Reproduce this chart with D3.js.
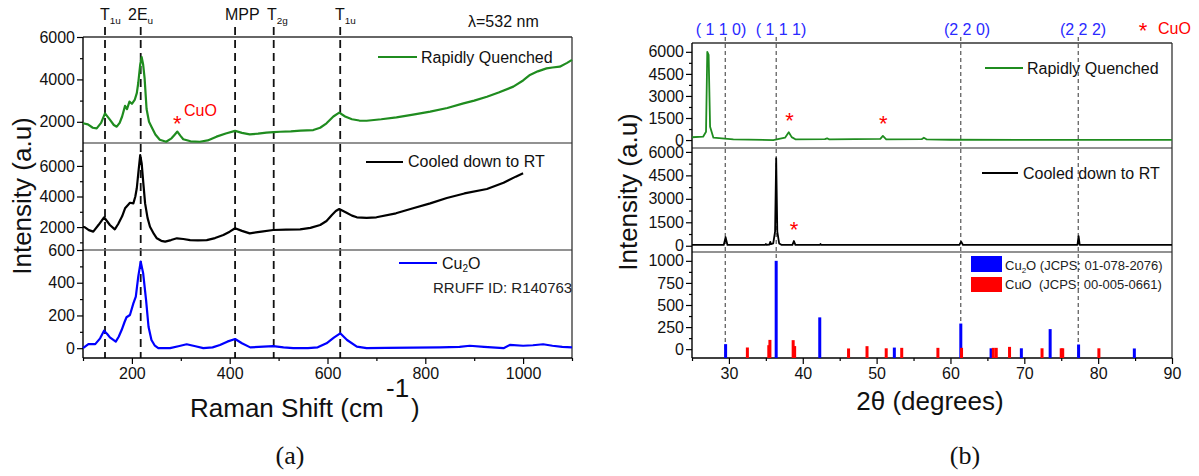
<!DOCTYPE html>
<html><head><meta charset="utf-8">
<script src="https://cdn.jsdelivr.net/npm/d3@7"></script>
<style>
body{margin:0;background:#fff}
svg{font-family:Arial,"Liberation Sans",sans-serif}
</style>
</head><body>
<svg id="c" width="1199" height="476"></svg>
<script>
// ---------------- DATA ----------------
// Raman (a)
const ramanShiftRQ = [100,110,120,128,137,145,155,163,169,175,180,186,190,195,200,206,210,213,217,220,223,226,230,235,240,248,257,270,281,287,293,299,305,320,339,355,373,392,411,425,441,458,475,490,503,525,545,571,585,598,612,624,636,650,665,680,710,741,775,810,845,878,900,926,950,980,1000,1014,1030,1048,1060,1075,1090,1100];
const intensityRQ   = [1930,1880,1720,1690,1950,2400,2100,1850,1770,1950,2250,2750,2600,2950,2850,3050,3350,3830,4700,5050,4700,4050,2600,2000,1770,1400,1150,1060,1220,1380,1540,1350,1180,1080,1060,1120,1300,1450,1570,1480,1410,1440,1490,1510,1530,1550,1580,1610,1720,1930,2250,2430,2250,2120,2060,2050,2120,2210,2340,2480,2650,2870,3000,3180,3380,3660,3950,4210,4380,4520,4560,4600,4780,4920];

const ramanShiftRT = [100,104,112,121,132,143,150,155,165,172,180,186,192,196,203,207,210,214,217,220,223,227,232,237,245,251,260,268,280,292,305,319,335,353,370,387,400,411,425,441,465,489,515,544,565,585,598,609,617,624,632,639,650,660,680,700,740,775,810,844,880,926,960,985,1000];
const intensityRT   = [2020,1985,1800,1700,2150,2640,2350,2135,1850,2200,2700,3230,3450,3590,3550,4000,4540,5800,6710,6170,5000,3550,2600,2020,1550,1265,1100,1045,1150,1265,1220,1150,1130,1150,1280,1480,1700,1920,1750,1590,1700,1810,1830,1850,1950,2135,2400,2790,3050,3180,3050,2940,2750,2640,2600,2640,2900,3230,3550,3900,4200,4490,4900,5300,5520];

const ramanShiftCu2O = [100,111,125,135,143,150,155,167,173,179,185,189,196,203,208,213,218,223,229,234,240,247,254,278,295,312,330,346,365,380,395,411,425,442,469,489,510,530,560,580,598,613,626,640,660,680,720,775,830,870,891,920,960,973,1000,1020,1041,1060,1080,1100];
const intensityCu2O   = [0,25,25,60,107,85,66,40,70,111,160,189,203,274,315,437,529,458,294,131,50,15,0,0,12,24,12,0,5,19,40,56,30,5,9,13,5,0,0,5,30,65,91,50,9,0,2,3,5,8,15,8,0,20,15,18,24,15,8,5];

const ramanModes      = [145,218,411,490,626];
const ramanModeLabels = [["T","1u"],["2E","u"],["MPP",""],["T","2g"],["T","1u"]];

const ramanTicksRQ = [2000,4000,6000], ramanMinorRQ = [3000,5000];
const ramanTicksRT = [2000,4000,6000], ramanMinorRT = [1000,3000,5000,7000];
const ramanTicksC  = [0,200,400,600],  ramanMinorC  = [100,300,500];
const ramanTicksX  = [200,400,600,800,1000], ramanMinorX = [100,300,500,700,900,1100];

// XRD (b)
const twoThetaRQ   = [25,26.5,26.9,27.07,27.25,27.45,27.9,30.6,36,37.6,38.1,38.5,39,43,43.3,43.6,50.5,50.85,51.3,56.1,56.4,56.8,60,70,80,90];
const xrdIntRQ     = [190,230,570,6000,5800,900,160,50,0,160,530,200,50,60,120,40,80,280,50,60,160,40,20,10,10,10];

const twoThetaRT   = [25,29.3,29.55,29.8,34.9,35.0,35.1,35.5,35.6,35.7,36.0,36.25,36.4,36.55,36.8,37.1,38.6,38.8,39.0,42.3,42.4,42.5,61.2,61.45,61.7,77.2,77.35,77.5,90];
const xrdIntRT     = [50,50,550,50,60,110,60,80,250,100,150,900,5600,900,150,60,60,300,60,60,110,60,50,260,50,50,620,50,50];

const cu2oPos = [29.55,36.4,42.3,52.4,61.4,65.5,69.6,73.5,77.35,84.9];
const cu2oInt = [57,1000,360,18,290,10,10,227,53,8];
const cuoPos  = [32.5,35.4,35.55,38.7,38.9,46.2,48.7,51.3,53.4,58.3,61.5,65.8,66.2,68.0,72.4,75.0,75.2,80.1];
const cuoInt  = [19,45,105,102,35,8,34,10,15,15,15,15,15,26,10,10,10,10];

const millerPos    = [29.5,36.4,61.4,77.3];
const millerLabels = ["( 1 1 0)","( 1 1 1)","(2 2 0)","(2 2 2)"];

const xrdTicksY  = [0,1500,3000,4500,6000], xrdMinorY = [750,2250,3750,5250];
const xrdTicksS  = [0,250,500,750,1000],    xrdMinorS = [125,375,625,875];
const xrdTicksX  = [30,40,50,60,70,80,90],  xrdMinorX = [25,35,45,55,65,75,85];

// ---------------- DRAW ----------------
const svg = d3.select("#c");
const GREEN = "#1f8c1f", BLUE = "#0000ff", RED = "#ff0000";

function styleAxis(g, fs){
  g.select("path.domain").remove();
  g.selectAll("line").attr("stroke","#000").attr("stroke-width",1.2);
  g.selectAll("text").attr("font-size",fs).attr("fill","#111").attr("font-family","Arial, 'Liberation Sans', sans-serif");
}
function leftAxis(y, x0, majors, minors){
  const g = svg.append("g").attr("transform",`translate(${x0},0)`)
    .call(d3.axisLeft(y).tickValues(majors).tickSize(6).tickPadding(2).tickSizeOuter(0).tickFormat(d3.format("d")));
  styleAxis(g,16);
  const m = svg.append("g").attr("transform",`translate(${x0},0)`)
    .call(d3.axisLeft(y).tickValues(minors).tickSize(3).tickSizeOuter(0).tickFormat(""));
  styleAxis(m,16);
}
function bottomAxis(x, y0, majors, minors){
  const g = svg.append("g").attr("transform",`translate(0,${y0})`)
    .call(d3.axisBottom(x).tickValues(majors).tickSize(6).tickPadding(4).tickSizeOuter(0).tickFormat(d3.format("d")));
  styleAxis(g,16);
  const m = svg.append("g").attr("transform",`translate(0,${y0})`)
    .call(d3.axisBottom(x).tickValues(minors).tickSize(3).tickSizeOuter(0).tickFormat(""));
  styleAxis(m,16);
}
function curve(x, y, xs, ys, color, w){
  svg.append("path").datum(d3.zip(xs,ys))
    .attr("d", d3.line().x(d=>x(d[0])).y(d=>y(d[1])))
    .attr("fill","none").attr("stroke",color).attr("stroke-width",w).attr("stroke-linejoin","round");
}
function subText(x, y, main, sub, fs, color, anchor){
  const t = svg.append("text").attr("x",x).attr("y",y).attr("font-size",fs).attr("fill",color||"#111")
    .attr("text-anchor",anchor||"start");
  t.append("tspan").text(main);
  if(sub) t.append("tspan").attr("font-size",fs*0.62).attr("dy",4).text(sub);
  return t;
}
function frame(x0,x1,yTop,yBot,divs){
  divs.forEach(d=>svg.append("line").attr("x1",x0).attr("x2",x1).attr("y1",d).attr("y2",d)
    .attr("stroke","#6e6e6e").attr("stroke-width",1.6));
  svg.append("line").attr("x1",x0).attr("x2",x1).attr("y1",yTop).attr("y2",yTop).attr("stroke","#333").attr("stroke-width",1.3);
  svg.append("line").attr("x1",x1).attr("x2",x1).attr("y1",yTop).attr("y2",yBot).attr("stroke","#333").attr("stroke-width",1.3);
  svg.append("line").attr("x1",x0).attr("x2",x1).attr("y1",yBot).attr("y2",yBot).attr("stroke","#000").attr("stroke-width",1.4);
  svg.append("line").attr("x1",x0).attr("x2",x0).attr("y1",yTop).attr("y2",yBot).attr("stroke","#000").attr("stroke-width",1.4);
}

// ===== Panel (a) Raman =====
const xR   = d3.scaleLinear().domain([100,1100]).range([83,572]);
const yRQ  = d3.scaleLinear().domain([1000,6000]).range([143,37]);
const yRT  = d3.scaleLinear().domain([500,7500]).range([250,143]);
const yC   = d3.scaleLinear().domain([-60,600]).range([358,250]);

// dashed mode lines
ramanModes.forEach(v=>{
  svg.append("line").attr("x1",xR(v)).attr("x2",xR(v)).attr("y1",27).attr("y2",358)
    .attr("stroke","#111").attr("stroke-width",1.8).attr("stroke-dasharray","8,5");
});
frame(83,572,37,358,[143,250]);

curve(xR,yRQ,ramanShiftRQ,intensityRQ,GREEN,2.2);
curve(xR,yRT,ramanShiftRT,intensityRT,"#000",2.2);
curve(xR,yC,ramanShiftCu2O,intensityCu2O,BLUE,2.2);

leftAxis(yRQ,83,ramanTicksRQ,ramanMinorRQ);
leftAxis(yRT,83,ramanTicksRT,ramanMinorRT);
leftAxis(yC,83,ramanTicksC,ramanMinorC);
bottomAxis(xR,358,ramanTicksX,ramanMinorX);

// mode labels
const modeLabelX = [100,128,225,267,335];
ramanModeLabels.forEach((l,i)=>subText(modeLabelX[i],20,l[0],l[1],16,"#111"));
svg.append("text").attr("x",468).attr("y",27).attr("font-size",16).attr("fill","#111").text("λ=532 nm");

// CuO marker
svg.append("text").attr("x",xR(293)).attr("y",131).attr("text-anchor","middle").attr("font-size",22).attr("fill",RED).text("*");
svg.append("text").attr("x",184).attr("y",116).attr("font-size",16).attr("fill",RED).text("CuO");

// legends
svg.append("line").attr("x1",378).attr("x2",417).attr("y1",57).attr("y2",57).attr("stroke",GREEN).attr("stroke-width",2.2);
svg.append("text").attr("x",421).attr("y",63).attr("font-size",16).attr("fill","#111").text("Rapidly Quenched");
svg.append("line").attr("x1",366).attr("x2",403).attr("y1",162).attr("y2",162).attr("stroke","#000").attr("stroke-width",2.2);
svg.append("text").attr("x",408).attr("y",167).attr("font-size",16).attr("fill","#111").text("Cooled down to RT");
svg.append("line").attr("x1",399).attr("x2",437).attr("y1",263).attr("y2",263).attr("stroke",BLUE).attr("stroke-width",2.2);
{
  const t = svg.append("text").attr("x",442).attr("y",269).attr("font-size",16).attr("fill","#111");
  t.append("tspan").text("Cu"); t.append("tspan").attr("font-size",10).attr("dy",3).text("2"); t.append("tspan").attr("dy",-3).text("O");
}
svg.append("text").attr("x",433).attr("y",293).attr("font-size",15).attr("fill","#222").text("RRUFF ID: R140763");

// axis titles
svg.append("text").attr("transform","translate(31,196) rotate(-90)").attr("text-anchor","middle")
  .attr("font-size",26).attr("fill","#111").text("Intensity (a.u)");
svg.append("text").attr("x",190).attr("y",417).attr("font-size",26).attr("fill","#111").text("Raman Shift (cm");
svg.append("text").attr("x",386).attr("y",397).attr("font-size",26).attr("fill","#111").text("-1");
svg.append("text").attr("x",411).attr("y",417).attr("font-size",26).attr("fill","#111").text(")");

// ===== Panel (b) XRD =====
const xX   = d3.scaleLinear().domain([25,90]).range([692,1172]);
const yXQ  = d3.scaleLinear().domain([-540,6600]).range([148,43]);
const yXT  = d3.scaleLinear().domain([-400,6250]).range([252,148]);
const yXS  = d3.scaleLinear().domain([-100,1100]).range([358,252]);

millerPos.forEach(v=>{
  svg.append("line").attr("x1",xX(v)).attr("x2",xX(v)).attr("y1",37).attr("y2",358)
    .attr("stroke","#333").attr("stroke-width",1).attr("stroke-dasharray","4,3");
});
frame(692,1172,43,358,[148,252]);

curve(xX,yXQ,twoThetaRQ,xrdIntRQ,GREEN,1.8);
curve(xX,yXT,twoThetaRT,xrdIntRT,"#000",1.8);

// reference sticks
svg.append("g").selectAll("rect.cu2o").data(d3.zip(cu2oPos,cu2oInt)).join("rect")
  .attr("x",d=>xX(d[0])-1.5).attr("width",3)
  .attr("y",d=>yXS(d[1])).attr("height",d=>yXS(-100)-yXS(d[1])).attr("fill",BLUE);
svg.append("g").selectAll("rect.cuo").data(d3.zip(cuoPos,cuoInt)).join("rect")
  .attr("x",d=>xX(d[0])-1.5).attr("width",3)
  .attr("y",d=>yXS(d[1])).attr("height",d=>yXS(-100)-yXS(d[1])).attr("fill",RED);

leftAxis(yXQ,692,xrdTicksY,xrdMinorY);
leftAxis(yXT,692,xrdTicksY,xrdMinorY);
leftAxis(yXS,692,xrdTicksS,xrdMinorS);
bottomAxis(xX,358,xrdTicksX,xrdMinorX);

// Miller labels
const millerLabelX = [721,781,967,1083];
millerLabels.forEach((l,i)=>svg.append("text").attr("x",millerLabelX[i]).attr("y",35).attr("text-anchor","middle")
  .attr("font-size",16).attr("fill","#2a2aff").text(l));
svg.append("text").attr("x",1143).attr("y",38).attr("text-anchor","middle").attr("font-size",22).attr("fill",RED).text("*");
svg.append("text").attr("x",1158).attr("y",34).attr("font-size",16).attr("fill",RED).text("CuO");

// CuO asterisks
[[38.2,yXQ,1450],[50.9,yXQ,1250],[38.8,yXT,1150]].forEach(a=>{
  svg.append("text").attr("x",xX(a[0])).attr("y",a[1](a[2])+9).attr("text-anchor","middle")
    .attr("font-size",22).attr("fill",RED).text("*");
});

// legends
svg.append("line").attr("x1",985).attr("x2",1023).attr("y1",68).attr("y2",68).attr("stroke",GREEN).attr("stroke-width",2);
svg.append("text").attr("x",1027).attr("y",74).attr("font-size",16).attr("fill","#111").text("Rapidly Quenched");
svg.append("line").attr("x1",982).attr("x2",1018).attr("y1",173).attr("y2",173).attr("stroke","#000").attr("stroke-width",2);
svg.append("text").attr("x",1023).attr("y",179).attr("font-size",16).attr("fill","#111").text("Cooled down to RT");

svg.append("rect").attr("x",971).attr("y",256).attr("width",31).attr("height",16).attr("fill",BLUE);
svg.append("rect").attr("x",971).attr("y",277).attr("width",31).attr("height",15).attr("fill",RED);
{
  const t = svg.append("text").attr("x",1005).attr("y",270).attr("font-size",13).attr("fill","#222");
  t.append("tspan").text("Cu"); t.append("tspan").attr("font-size",8).attr("dy",3).text("2");
  t.append("tspan").attr("dy",-3).text("O (JCPS: 01-078-2076)");
}
svg.append("text").attr("x",1005).attr("y",289).attr("font-size",13).attr("fill","#222").attr("xml:space","preserve")
  .style("white-space","pre").text("CuO  (JCPS: 00-005-0661)");

svg.append("text").attr("transform","translate(637,192) rotate(-90)").attr("text-anchor","middle")
  .attr("font-size",26).attr("fill","#111").text("Intensity (a.u)");
svg.append("text").attr("x",930).attr("y",410).attr("text-anchor","middle").attr("font-size",26).attr("fill","#111").text("2θ (degrees)");

// panel labels
svg.append("text").attr("x",290).attr("y",464).attr("text-anchor","middle").attr("font-size",26)
  .attr("font-family","'Liberation Serif','Times New Roman',serif").attr("fill","#111").text("(a)");
svg.append("text").attr("x",965).attr("y",464).attr("text-anchor","middle").attr("font-size",26)
  .attr("font-family","'Liberation Serif','Times New Roman',serif").attr("fill","#111").text("(b)");
</script>
</body></html>
